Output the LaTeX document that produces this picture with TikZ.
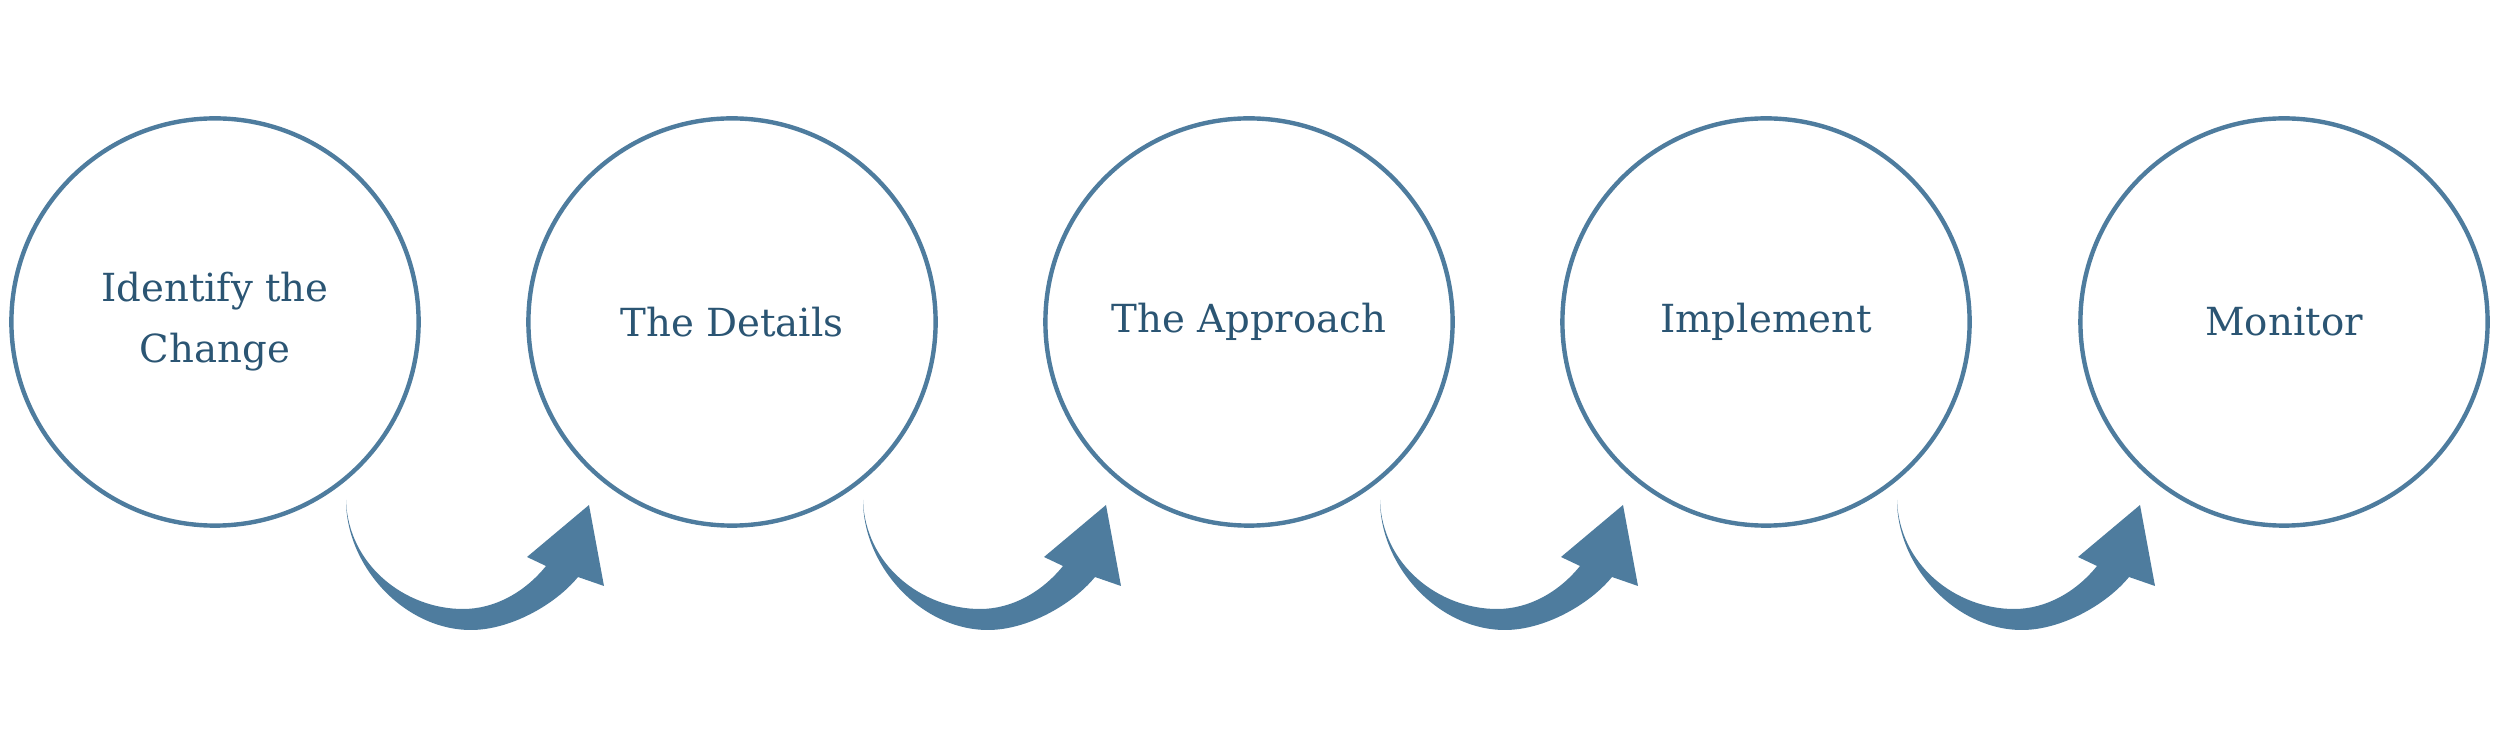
\documentclass[tikz,border=0pt]{standalone}
\usepackage{fontspec}
\setmainfont{DejaVu Serif}
\definecolor{ringblue}{HTML}{4E7C9E}
\definecolor{textblue}{HTML}{2B5573}
\begin{document}
\begin{tikzpicture}[x=0.01cm,y=-0.01cm,
  stage/.style={circle,draw=ringblue,line width=1.25pt,minimum size=4.07cm,inner sep=0pt,
    text=textblue,font=\fontsize{11}{17.3}\selectfont,align=center},
  bendarrow/.style={fill=ringblue,draw=none}]
\useasboundingbox (0,0) rectangle (2500,731);
\node[stage] (s1) at (215,322) {Identify the\\Change};
\node[stage] (s2) at (732,322) {The Details};
\node[stage] (s3) at (1249,322) {The Approach};
\node[stage] (s4) at (1766,322) {Implement};
\node[stage] (s5) at (2284,322) {Monitor};
\foreach \i in {1,...,4}{
  \begin{scope}[shift={(s\i.center)}]
    \coordinate (t\i) at (131,178);
    \fill[bendarrow] (t\i) .. controls (131,245) and (190,308) .. (256,308)
      .. controls (295,308) and (340,283) .. (363,255)
      -- (389,264) -- (374,183) -- (312,235) -- (331,244)
      .. controls (310,270) and (280,287) .. (248,287)
      .. controls (190,287) and (133,243) .. (t\i) -- cycle;
  \end{scope}
}
\end{tikzpicture}
\end{document}
